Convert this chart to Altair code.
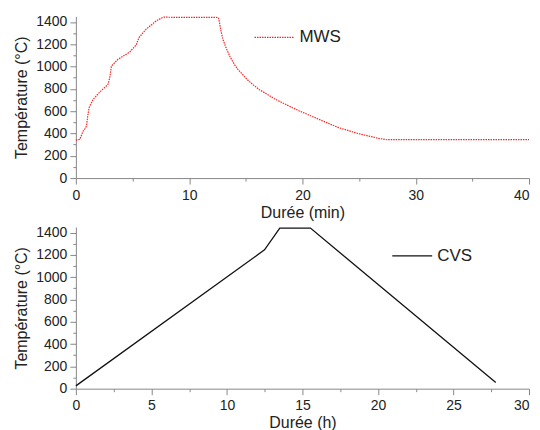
import altair as alt
import pandas as pd

# MWS (microwave sintering) profile, time in minutes
mws_t = [0, 0.35, 0.64, 0.79, 0.94, 1.05, 1.17, 1.52, 2.1, 2.84, 2.99, 3.14, 3.72, 4.75, 5.33, 5.57,
         6.2, 7.09, 7.7, 8.5, 10.0, 11.5, 12.55, 12.6, 12.81, 12.98, 13.25, 13.6, 13.98, 14.32, 14.71,
         15.1, 15.59, 16.2, 16.9, 17.5, 18.22, 18.9, 19.69, 21.45, 23.2, 24.97, 26.73, 27.46, 30.0,
         35.0, 40.0]
mws_T = [341, 347, 422, 440, 467, 560, 631, 706, 770, 841, 900, 1005, 1065, 1130, 1194, 1260,
         1335, 1409, 1443, 1442, 1441, 1442, 1440, 1434, 1320, 1245, 1170, 1090, 1021, 972, 931,
         886, 841, 793, 751, 713, 676, 642, 604, 527, 452, 398, 356, 344, 344, 344, 344]

# CVS (conventional sintering) profile, time in hours
cvs_t = [0, 12.49, 13.5, 15.53, 27.8]
cvs_T = [25, 1245, 1440, 1440, 55]

FONT = "Liberation Sans"

mws = pd.DataFrame({"t": mws_t, "T": mws_T, "s": "MWS"})
cvs = pd.DataFrame({"t": cvs_t, "T": cvs_T, "s": "CVS"})

def yaxis():
    return alt.Axis(
        title="Température (°C)", format="d",
        values=list(range(0, 1401, 100)),
        labelExpr="datum.value % 200 == 0 ? datum.label : ''",
        tickSize={"condition": {"test": "datum.value % 200 == 0", "value": 6}, "value": 3},
        grid=False, domainColor="#888", tickColor="#888",
        labelFontSize=14, titleFontSize=16, labelColor="#222", titleColor="#222",
        titleFontWeight="normal",
        labelFont=FONT, titleFont=FONT, titlePadding=6, labelPadding=3,
    )

def xaxis(title, step, labstep, maxv):
    vals = [i * step for i in range(int(round(maxv / step)) + 1)]
    test = f"abs(datum.value / {labstep} - round(datum.value / {labstep})) < 0.001"
    return alt.Axis(
        title=title, values=vals, format="d",
        labelExpr=f"{test} ? datum.label : ''",
        labelAlign={"condition": {"test": f"datum.value == {maxv}", "value": "right"}, "value": "center"},
        tickSize={"condition": {"test": test, "value": 6}, "value": 3},
        grid=False, domainColor="#888", tickColor="#888",
        labelFontSize=14, titleFontSize=16, labelColor="#222", titleColor="#222",
        titleFontWeight="normal",
        labelFont=FONT, titleFont=FONT, titlePadding=2, labelPadding=4, labelFlush=False,
    )

top = alt.Chart(mws).mark_line(strokeWidth=1.2, strokeDash=[1.5, 1]).encode(
    x=alt.X("t:Q", scale=alt.Scale(domain=[0, 40], nice=False), axis=xaxis("Durée (min)", 5, 10, 40)),
    y=alt.Y("T:Q", scale=alt.Scale(domain=[0, 1450], nice=False), axis=yaxis()),
    color=alt.Color("s:N", scale=alt.Scale(domain=["MWS"], range=["#ff2020"]),
                    legend=alt.Legend(title=None, orient="none", legendX=178, legendY=0,
                                      symbolType="stroke", symbolSize=1600, symbolStrokeWidth=1.2,
                                      symbolDash=[1.5, 1], labelFontSize=17, labelFont=FONT,
                                      labelColor="#222")),
).properties(width=454, height=162)

bottom = alt.Chart(cvs).mark_line(strokeWidth=1.3, color="#111").encode(
    x=alt.X("t:Q", scale=alt.Scale(domain=[0, 30], nice=False), axis=xaxis("Durée (h)", 2.5, 5, 30)),
    y=alt.Y("T:Q", scale=alt.Scale(domain=[0, 1450], nice=False), axis=yaxis()),
    color=alt.Color("s:N", scale=alt.Scale(domain=["CVS"], range=["#111111"]),
                    legend=alt.Legend(title=None, orient="none", legendX=316, legendY=8,
                                      symbolType="stroke", symbolSize=1600, symbolStrokeWidth=1.3,
                                      labelFontSize=17, labelFont=FONT, labelColor="#222")),
).properties(width=454, height=162)

chart = alt.vconcat(top, bottom, spacing=5).resolve_scale(color="independent", x="independent").configure_view(
    stroke=None
).properties(padding={"left": 5, "top": 6, "right": 0, "bottom": 0})

chart.save("out.html", embed_options={"renderer": "svg", "actions": False})
